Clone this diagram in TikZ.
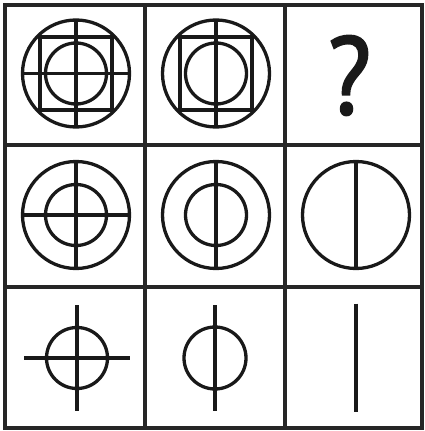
\documentclass[tikz,border=0pt]{standalone}
\usepackage{fontspec}
\setmainfont{PT Sans}
\newfontfamily\qfont[FakeBold=2]{PT Sans}
\begin{document}
\begin{tikzpicture}[x=1pt,y=-1pt,
  grid/.style={line width=4pt,draw=black!85},
  fig/.style={line width=3.3pt,draw=black!90}]
\useasboundingbox (0,0) rectangle (424,431);
% grid
\draw[grid] (5,5) rectangle (422,428);
\draw[grid] (145,5) -- (145,428);
\draw[grid] (285,5) -- (285,428);
\draw[grid] (5,145) -- (422,145);
\draw[grid] (5,287) -- (422,287);
% row 1, col 1
\begin{scope}[shift={(76,73.5)}]
  \draw[fig] (0,0) circle (53.5);
  \draw[fig] (-36,-36.5) rectangle (36,36.5);
  \draw[fig] (0,0) circle (30.5);
  \draw[fig] (0,-53.5) -- (0,53.5);
  \draw[fig] (-53.5,0) -- (53.5,0);
\end{scope}
% row 1, col 3 / row 1, col 2
\begin{scope}[shift={(216,73.5)}]
  \draw[fig] (0,0) circle (53.5);
  \draw[fig] (-36,-36.5) rectangle (36,36.5);
  \draw[fig] (0,0) circle (30.5);
  \draw[fig] (0,-53.5) -- (0,53.5);
\end{scope}
\node[text=black!90,inner sep=0pt,anchor=base,xscale=0.9] (q) at (349.5,114) {\fontsize{110}{110}\qfont ?};
% row 2
\begin{scope}[shift={(76,215)}]
  \draw[fig] (0,0) circle (53.5);
  \draw[fig] (0,0) circle (30.5);
  \draw[fig] (0,-53.5) -- (0,53.5);
  \draw[fig] (-53.5,0) -- (53.5,0);
\end{scope}
\begin{scope}[shift={(216,215)}]
  \draw[fig] (0,0) circle (53.5);
  \draw[fig] (0,0) circle (30.5);
  \draw[fig] (0,-53.5) -- (0,53.5);
\end{scope}
\begin{scope}[shift={(356,215)}]
  \draw[fig] (0,0) circle (53.5);
  \draw[fig] (0,-53.5) -- (0,53.5);
\end{scope}
% row 3
\begin{scope}[shift={(77,358)}]
  \draw[fig] (0,0) circle (30.5);
  \draw[fig] (0,-53) -- (0,53);
  \draw[fig] (-53,0) -- (53,0);
\end{scope}
\begin{scope}[shift={(215,358)}]
  \draw[fig] (0,0) circle (31);
  \draw[fig] (0,-53) -- (0,53);
\end{scope}
\draw[fig] (356,303.5) -- (356,411.5);
\end{tikzpicture}
\end{document}
